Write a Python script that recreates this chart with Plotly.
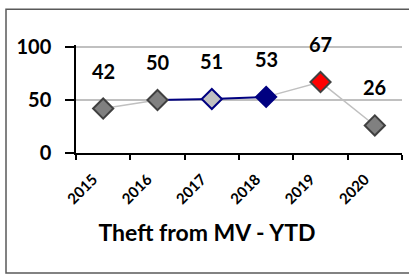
import plotly.graph_objects as go

years = ["2015", "2016", "2017", "2018", "2019", "2020"]
values = [42, 50, 51, 53, 67, 26]
marker_fill = ["#808080", "#808080", "#C0C0C0", "#000080", "#FF0000", "#808080"]
marker_edge = ["#404040", "#404040", "#000080", "#000080", "#404040", "#404040"]
y_ticks = [0, 50, 100]
title_text = "Theft from MV - YTD"

FONT = "Lato"
GRAY_LINE = "#C0C0C0"
NAVY = "#000080"

idx = list(range(len(years)))

fig = go.Figure()

segments = [(0, 2, GRAY_LINE, 1.5), (1, 4, NAVY, 2), (3, 6, GRAY_LINE, 1.5)]
for a, b, col, w in segments:
    fig.add_trace(go.Scatter(x=idx[a:b], y=values[a:b], mode="lines",
                             line=dict(color=col, width=w), hoverinfo="skip",
                             showlegend=False))

fig.add_trace(go.Scatter(
    x=idx, y=values, mode="markers",
    marker=dict(symbol="diamond", size=15.5, color=marker_fill,
                line=dict(color=marker_edge, width=2)),
    showlegend=False))

for xv, yv in zip(idx, values):
    fig.add_annotation(x=xv, y=yv, text=str(yv), showarrow=False, yshift=38,
                       font=dict(family=FONT, size=20, color="black", weight="bold"))

fig.add_shape(type="rect", xref="paper", yref="paper",
              x0=-0.2147, x1=1.2, y0=-1.11, y1=1.33,
              line=dict(color="#595959", width=1.5), fillcolor="rgba(0,0,0,0)",
              layer="below")

fig.update_layout(
    width=409, height=275,
    margin=dict(l=76, r=7, t=45, b=122),
    paper_bgcolor="white", plot_bgcolor="white",
    title=dict(text=title_text, x=0.506, y=1 - 233 / 275, xanchor="center", yanchor="middle",
               font=dict(family=FONT, size=23, color="black", weight="bold")),
    xaxis=dict(range=[-0.5, 5.5], tickvals=idx, ticktext=years,
               ticks="", showline=True, linecolor="black", linewidth=1.5, showgrid=False,
               zeroline=False, tickangle=-45, ticklabelstandoff=10, ticklabelshift=-10,
               tickfont=dict(family=FONT, size=15, color="black", weight="bold"),
               minor=dict(tickvals=[i - 0.5 for i in idx] + [5.5], ticks="outside",
                          ticklen=5, tickcolor="black", tickwidth=1.5, showgrid=False)),
    yaxis=dict(range=[0, 102], tickvals=y_ticks, ticks="outside", ticklen=9,
               tickcolor="black", tickwidth=1.5, showline=True, linecolor="black",
               linewidth=1.5, showgrid=True, gridcolor=GRAY_LINE, gridwidth=1.5,
               zeroline=False, ticklabelstandoff=10,
               tickfont=dict(family=FONT, size=20, color="black", weight="bold")),
)

fig.write_html("out.html", config={"displayModeBar": False},
               post_script="document.body.style.margin='0';document.body.style.overflow='hidden';")
